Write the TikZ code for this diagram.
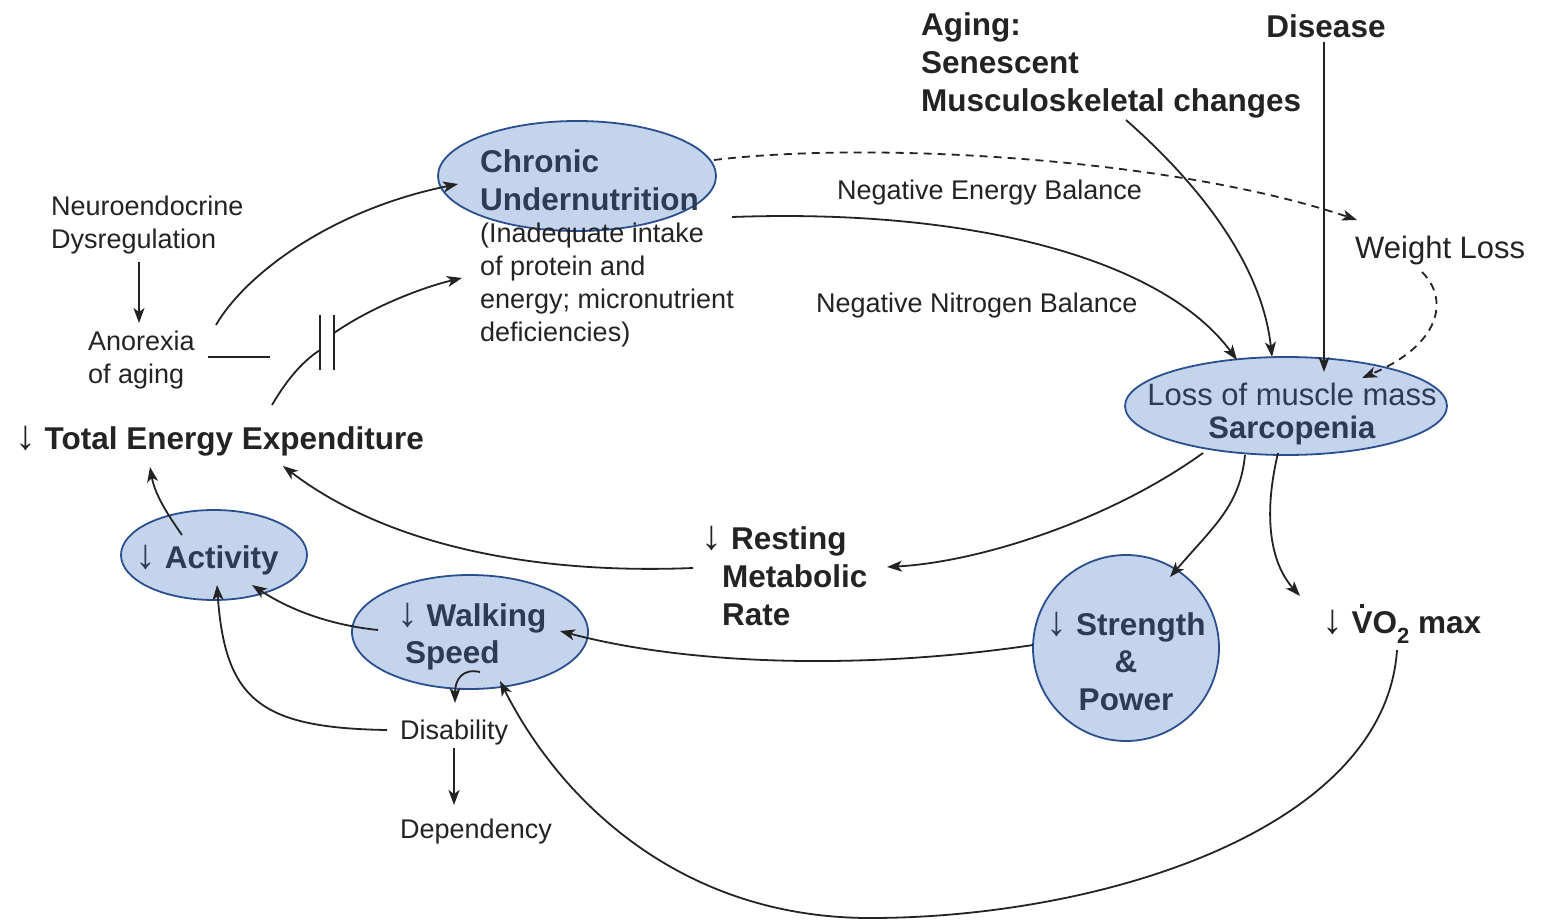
\documentclass[tikz,border=0pt]{standalone}
\usepackage{fontspec}
\usepackage{graphicx}
\setmainfont{Liberation Sans}
\usetikzlibrary{arrows.meta,shapes.geometric,calc}
\definecolor{efill}{HTML}{C5D4ED}
\definecolor{edraw}{HTML}{2A4F8F}
\definecolor{etext}{HTML}{2D3B57}
\definecolor{ink}{HTML}{232323}
\newcommand\vdotV{\rlap{\hspace{0.27em}\raisebox{0.80em}{\rule{0.12em}{0.12em}}}V}
\newcommand\subtwo{\raisebox{-0.32em}{\fontsize{22}{22}\selectfont 2}}
\newcommand\dn{\resizebox{!}{0.74em}{↓}}
\begin{document}
\begin{tikzpicture}[x=1pt,y=-1pt,
  small/.style={font=\fontsize{27}{33}\selectfont, text=ink, inner sep=0pt, align=left},
  big/.style={font=\fontsize{31}{37.5}\selectfont, text=ink, inner sep=0pt, align=left},
  bbig/.style={font=\fontsize{31.5}{38}\selectfont\bfseries, text=ink, inner sep=0pt, align=left},
  ell/.style={ellipse, draw=edraw, fill=efill, line width=1.8pt, inner sep=0pt},
  etb/.style={font=\fontsize{31.5}{37.5}\selectfont\bfseries, text=etext, inner sep=0pt},
  etr/.style={font=\fontsize{31}{33}\selectfont, text=etext, inner sep=0pt},
  ln/.style={draw=ink, line width=1.8pt},
  arr/.style={ln, -{Stealth[length=15pt,width=11pt,inset=4pt]}},
  darr/.style={arr, dash pattern=on 8pt off 6pt},
]
\useasboundingbox (0,0) rectangle (1550,923);

% ellipses
\node[ell, minimum width=278pt, minimum height=110pt] (chr) at (577,176) {};
\node[etb, anchor=west, align=left] (chrt) at (480,180) {Chronic\\Undernutrition};
\node[ell, minimum width=322pt, minimum height=98pt] (sarc) at (1286,406) {};
\node[etr, align=center] (sarct) at (1292,414) {Loss of muscle mass\\\textbf{Sarcopenia}};
\node[ell, minimum width=186pt, minimum height=90pt] (act) at (214,555) {};
\node[etb] (actt) at (207,560) {\dn\ Activity};
\node[ell, minimum width=236pt, minimum height=114pt] (walk) at (470,632) {};
\node[etb, anchor=west, align=left] (walkt) at (397,636.5) {\dn\ Walking\\\hspace*{8pt}Speed};
\node[circle, draw=edraw, fill=efill, line width=1.8pt, minimum size=186pt, inner sep=0pt] (str) at (1126,648) {};
\node[etb, align=center] (strt) at (1126,661) {\dn\ Strength\\\&\\Power};

% text nodes
\node[bbig, anchor=west] (aging) at (921,65) {Aging:\\Senescent\\Musculoskeletal changes};
\node[bbig] (disease) at (1326,26) {Disease};
\node[small, anchor=west] (neuro) at (51,225.5) {Neuroendocrine\\Dysregulation};
\node[small, anchor=west] (anor) at (88,360.5) {Anorexia\\of aging};
\node[bbig, anchor=west] (tee) at (15,441) {\dn\ Total Energy Expenditure};
\node[small, anchor=west] (desc) at (480,285) {(Inadequate intake\\of protein and\\energy; micronutrient\\deficiencies)};
\node[small, anchor=west] (neb) at (837,193) {Negative Energy Balance};
\node[small, anchor=west] (nnb) at (816,306) {Negative Nitrogen Balance};
\node[big, anchor=west] (wl) at (1355,250) {Weight Loss};
\node[bbig, anchor=west] (rmr) at (722,576) {\hspace*{9pt}\llap{\dn\ }Resting\\Metabolic\\Rate};
\node[bbig, anchor=west] (vo2) at (1322,624) {\dn\ \vdotV O\subtwo\ max};
\node[small, anchor=west] (dis) at (400,733) {Disability};
\node[small, anchor=west] (dep) at (400,832) {Dependency};

% connectors
\draw[arr] ($(neuro.west)+(88,36.5)$) -- ($(anor.west)+(51,-37.5)$);
\draw[arr] ($(anor.west)+(128,-35.5)$) .. controls (245,275) and (330,210) .. ($(chr.center)+(-119,8)$);
\coordinate (anend) at (270,357);
\draw[ln] ($(anor.west)+(120,-3.5)$) -- (anend);
\coordinate (bk1) at (320,350);
\coordinate (bk2) at (334,333);
\draw[ln] ($(tee.west)+(257,-36)$) .. controls (285,383) and (300,363) .. (bk1);
\draw[ln] (320,315) -- (320,370);
\draw[ln] (334,315) -- (334,370);
\draw[arr] (bk2) .. controls (370,308) and (420,288) .. ($(desc.west)+(-18,-7)$);

\draw[arr] ($(chr.center)+(155,41)$) .. controls (980,208) and (1165,262) .. ($(sarc.center)+(-49,-46)$);
\draw[darr] ($(chr.center)+(137,-16)$) .. controls (880,140) and (1180,160) .. ($(wl.west)+(2,-30)$);
\draw[darr] ($(wl.west)+(67,22)$) .. controls (1450,300) and (1440,345) .. ($(sarc.center)+(76,-28)$);
\draw[arr] ($(aging.west)+(205,55)$) .. controls (1200,185) and (1262,265) .. ($(sarc.center)+(-14,-49)$);
\draw[arr] ($(disease.center)+(-2,16)$) -- ($(sarc.center)+(38,-34)$);

\draw[arr] ($(sarc.center)+(-83,47)$) .. controls (1110,520) and (980,562) .. ($(rmr.west)+(165,-9)$);
\draw[arr] ($(rmr.west)+(-29,-8)$) .. controls (520,575) and (380,540) .. ($(tee.west)+(268,25)$);
\draw[arr] ($(sarc.center)+(-41,49)$) .. controls (1240,505) and (1215,525) .. ($(str.center)+(44,-71)$);
\draw[arr] ($(sarc.center)+(-8,47)$) .. controls (1262,520) and (1272,565) .. ($(vo2.west)+(-22,-28)$);
\draw[arr] ($(vo2.west)+(75,26)$) .. controls (1385,830) and (1100,918) .. (870,918)
   .. controls (680,918) and (560,800) .. ($(walk.center)+(30,49)$);
\draw[arr] ($(str.center)+(-93,-3)$) .. controls (880,668) and (700,668) .. ($(walk.center)+(90,-1)$);
\draw[arr] ($(walk.center)+(-92,-2)$) .. controls (330,625) and (290,610) .. ($(act.center)+(38,30)$);
\draw[arr] ($(act.center)+(-32,-20)$) .. controls (168,515) and (155,495) .. ($(tee.west)+(135,26)$);
\draw[arr] ($(walk.center)+(10,40)$) .. controls (462,668) and (455,680) .. ($(dis.west)+(55,-30)$);
\draw[arr] ($(dis.west)+(-13,-3)$) .. controls (260,728) and (225,700) .. ($(act.center)+(3,30)$);
\draw[arr] ($(dis.west)+(54,15)$) -- ($(dis.west)+(54,72)$);
\end{tikzpicture}
\end{document}
